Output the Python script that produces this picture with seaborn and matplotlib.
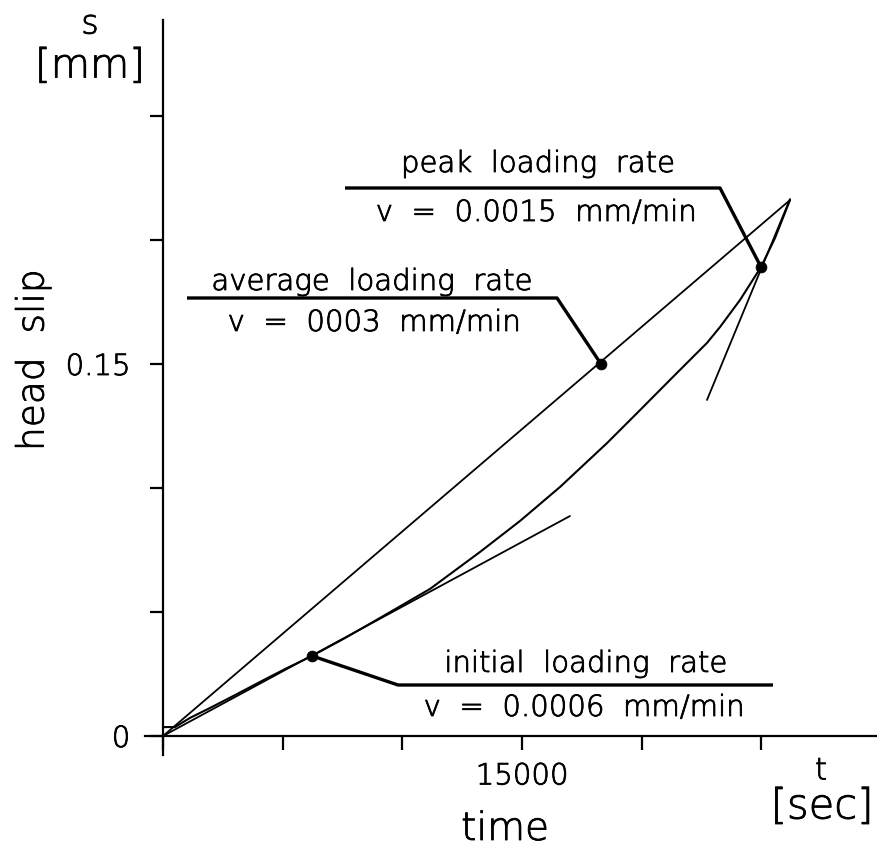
import matplotlib
matplotlib.use("Agg")
import matplotlib.pyplot as plt
import matplotlib.patheffects as pe
import seaborn as sns
import pandas as pd

# ---- data ----
time_s = [0, 501, 1128, 1963, 3008, 4052, 5096, 6224, 7602, 9064, 11153, 13241,
          14912, 16583, 18546, 19925, 21303, 22723, 23266, 24102, 24979,
          25564, 26190]
slip_mm = [0.0036, 0.0036, 0.0073, 0.0113, 0.0165, 0.0218, 0.0270, 0.0323,
           0.0395, 0.0476, 0.0593, 0.0742, 0.0867, 0.1004, 0.1181,
           0.1314, 0.1448, 0.1585, 0.1649, 0.1758, 0.1891, 0.2008, 0.2161]

average_t = [0, 26190]
average_s = [0, 0.2161]
initial_t = [0, 17000]
initial_s = [0, 0.0887]
peak_t = [22723, 26190]
peak_s = [0.1355, 0.2165]

marker_t = [6224, 18296, 24979]
marker_s = [0.0323, 0.1500, 0.1891]

label_titles = ["initial  loading  rate", "average  loading  rate", "peak  loading  rate"]
label_rates = ["v  =  0.0006  mm/min", "v  =  0003  mm/min", "v  =  0.0015  mm/min"]

x_ticks = [0, 5000, 10000, 15000, 20000, 25000]
x_ticklabels = ["", "", "", "15000", "", ""]
y_ticks = [0, 0.05, 0.10, 0.15, 0.20, 0.25]
y_ticklabels = ["0", "", "", "0.15", "", ""]

# ---- figure ----
sns.set_theme(style="white")
plt.rcParams["font.family"] = ["DejaVu Sans"]
plt.rcParams["font.weight"] = "light"
plt.rcParams["text.color"] = "black"

W, H = 878, 855
fig = plt.figure(figsize=(W / 100, H / 100), dpi=100)
ax = fig.add_axes([0, 0, 1, 1])
ax.patch.set_alpha(0)

thick = [pe.withStroke(linewidth=0.6, foreground="black")]

px_per_t = 119.7 / 5000
px_per_s = 124 / 0.05
x0, y0 = 163, 736
ax.set_xlim(-x0 / px_per_t, (W - x0) / px_per_t)
ax.set_ylim(-(H - y0) / px_per_s, y0 / px_per_s)


def T(px):
    return (px - x0) / px_per_t


def S(py):
    return (y0 - py) / px_per_s


curve = pd.DataFrame({"t": time_s, "s": slip_mm})
sns.lineplot(data=curve, x="t", y="s", ax=ax, color="black", lw=1.5, sort=False)
for tt, ss in [(average_t, average_s), (initial_t, initial_s), (peak_t, peak_s)]:
    sns.lineplot(x=tt, y=ss, ax=ax, color="black", lw=1.3, sort=False)

sns.scatterplot(x=marker_t, y=marker_s, ax=ax, color="black", s=60, zorder=5,
                edgecolor="black")

# leader lines
lw_lead = 2.4
ax.plot([marker_t[0], T(398), T(773)], [marker_s[0], S(685), S(685)],
        color="black", lw=lw_lead, solid_capstyle="butt")
ax.plot([T(187), T(557), marker_t[1]], [S(298), S(298), marker_s[1]],
        color="black", lw=lw_lead, solid_capstyle="butt")
ax.plot([T(345), T(720), marker_t[2]], [S(188), S(188), marker_s[2]],
        color="black", lw=lw_lead, solid_capstyle="butt")

fs_lab = 21
label_pos = [(586, 664, 584, 708), (372, 282, 374, 323), (538, 164, 536, 213)]
for (tx, ty, rx, ry), ttl, rt in zip(label_pos, label_titles, label_rates):
    ax.text(T(tx), S(ty), ttl, ha="center", va="center", fontsize=fs_lab,
            color="black", path_effects=thick)
    ax.text(T(rx), S(ry), rt, ha="center", va="center", fontsize=fs_lab,
            color="black", path_effects=thick)

# axes / spines
for side in ["top", "right"]:
    ax.spines[side].set_visible(False)
ax.spines["left"].set_position(("data", 0))
ax.spines["bottom"].set_position(("data", 0))
ax.spines["left"].set_bounds(S(755), S(20))
ax.spines["bottom"].set_bounds(T(145), T(W))
for side in ["left", "bottom"]:
    ax.spines[side].set_linewidth(1.6)
    ax.spines[side].set_color("black")

ax.set_xticks(x_ticks)
ax.set_xticklabels(x_ticklabels)
ax.set_yticks(y_ticks)
ax.set_yticklabels(y_ticklabels)
ax.tick_params(axis="both", direction="out", width=1.6, color="black",
               labelsize=21, labelcolor="black")
ax.tick_params(axis="x", length=10, pad=9, bottom=True)
ax.tick_params(axis="y", length=9.5, pad=14, left=True)
for lbl in ax.get_xticklabels() + ax.get_yticklabels():
    lbl.set_path_effects(thick)
ax.set_xlabel("")
ax.set_ylabel("")
ax.grid(False)


def ftext(x, y, s, **kw):
    fig.text(x / W, 1 - y / H, s, ha="center", va="center", color="black",
             path_effects=thick, **kw)


ftext(33, 360, "head  slip", fontsize=27, rotation=90)
ftext(505, 829, "time", fontsize=28)
ftext(90, 24, "s", fontsize=24)
ftext(90, 66, "[mm]", fontsize=29)
ftext(821, 771, "t", fontsize=22)
ftext(822, 806, "[sec]", fontsize=30)

fig.savefig("out.png", dpi=100)
